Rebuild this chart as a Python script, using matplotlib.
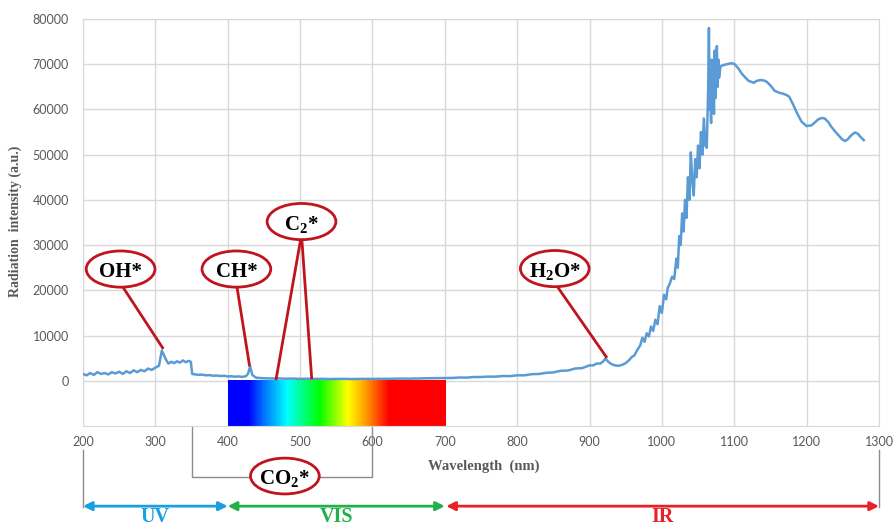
import numpy as np
import matplotlib
matplotlib.use("Agg")
from matplotlib import pyplot as plt
from matplotlib.patches import Ellipse
from matplotlib.colors import LinearSegmentedColormap

plt.rcParams['mathtext.default'] = 'regular'

# emission spectrum (nm, a.u.)
wavelength = [200, 205, 210, 215, 220, 225, 230, 235, 240, 245, 250, 255, 260, 265, 270,
              275, 280, 285, 290, 295, 300,
              305, 309, 312, 315, 318, 322, 326, 330, 334, 338, 342, 346, 349, 351,
              355, 360, 365, 370, 375, 380, 385, 390, 395, 400, 405, 410, 415, 420,
              425, 428, 431, 434, 438,
              440, 450, 460, 470, 480, 490, 500, 510, 520, 530, 540, 550, 560, 570,
              580, 590, 600, 610, 620, 630, 640, 650, 660, 670, 680, 690, 700,
              710, 720, 730, 740, 750, 760, 770, 780, 790, 800, 810, 820, 830, 840,
              850, 860, 870, 880, 890, 900, 905, 910, 915, 919, 922, 926, 930, 935,
              940, 945, 950, 955, 958, 962, 966, 970, 973, 976, 979, 982, 985, 988,
              991, 994, 997, 1000, 1003, 1006, 1008, 1011, 1014, 1017, 1020, 1022,
              1024, 1026, 1028, 1030, 1032, 1034, 1036, 1038, 1040, 1042, 1044, 1046,
              1048, 1050, 1052, 1054, 1056, 1058, 1060, 1062, 1064, 1065, 1066, 1067,
              1068, 1069, 1070, 1071, 1072, 1073, 1074, 1075, 1076, 1077, 1078, 1079,
              1081, 1085, 1090, 1095, 1100, 1106, 1110, 1115, 1120, 1127, 1131, 1136,
              1141, 1145, 1150, 1156, 1162, 1167, 1172, 1176, 1181, 1187, 1193, 1200,
              1207, 1212, 1216, 1221, 1225, 1230, 1234, 1239, 1244, 1249, 1253, 1257,
              1260, 1264, 1267, 1271, 1274, 1277, 1279]
intensity = [1500, 1200, 1700, 1300, 1900, 1500, 1700, 1400, 1900, 1600, 2000, 1500, 2100,
             1700, 2300, 1900, 2400, 2100, 2700, 2400, 2900,
             3300, 6700, 5600, 4600, 3800, 4200, 3900, 4300, 4000, 4500, 4100, 4400, 4200, 1500,
             1400, 1300, 1350, 1200, 1250, 1100, 1150, 1050, 1100, 950, 1000, 900, 950, 850,
             1000, 1500, 3200, 1300, 800,
             650, 550, 500, 520, 450, 480, 420, 450, 400, 430, 380, 400, 420, 380,
             400, 420, 400, 430, 420, 450, 480, 460, 500, 520, 560, 580, 600,
             620, 720, 690, 820, 830, 920, 900, 1050, 1020, 1200, 1200, 1450, 1500, 1750,
             1850, 2200, 2250, 2700, 2800, 3400, 3400, 3800, 3800, 4300, 4900, 4200, 3700, 3400,
             3300, 3500, 3900, 4600, 5200, 5600, 6800, 7800, 9500, 8600, 10500, 9800, 12000, 11000,
             13500, 12500, 16500, 15000, 19000, 18000, 20500, 21500, 23000, 22500, 27000, 25000,
             32000, 30000, 37000, 33000, 40000, 36000, 45000, 40000, 50500, 44000, 41000, 49000,
             45000, 52000, 47000, 55000, 50000, 58000, 52000, 51500, 65000, 78000, 60000, 63000,
             57000, 71000, 62000, 65000, 59000, 73000, 62500, 70000, 74000, 65000, 71000, 67000,
             69500, 69800, 70000, 70200, 70100, 69000, 68000, 67100, 66300, 65900, 66300, 66500,
             66400, 66100, 65300, 64100, 63700, 63500, 63200, 62800, 61200, 59100, 57300, 56300,
             56500, 57200, 57800, 58100, 58000, 57200, 56200, 55200, 54300, 53400, 53000, 53400,
             54000, 54600, 54900, 54600, 54000, 53500, 53200]

x_ticks = list(range(200, 1301, 100))
y_ticks = list(range(0, 80001, 10000))

# band labels: (name, start, end, colour)
bands = [("UV", 200, 400, "#1a9fe0"),
         ("VIS", 400, 700, "#22b04b"),
         ("IR", 702, 1300, "#e8202a")]

# species callouts: label, ellipse centre, leader line end points
species = [("OH*", (252, 24700), [(310, 7300)]),
           ("CH*", (412, 24700), [(430, 3500)]),
           ("C$_2$*", (502, 35200), [(467, 450), (516, 650)]),
           ("H$_2$O*", (852, 24800), [(923, 5300)])]

grid_col = "#d9d9d9"
text_col = "#595959"
red = "#c0141e"

fig = plt.figure(figsize=(8.95, 5.27), dpi=100)
ax = fig.add_axes([0.0927, 0.1917, 0.8894, 0.7723])

ax.plot(wavelength, intensity, color="#5b9bd5", lw=1.8, zorder=3)

# visible colour strip under the curve
spec_cmap = LinearSegmentedColormap.from_list("vis", [
    (0.0, "#0000ff"), (0.09, "#0000ff"), (0.16, "#0070ff"), (0.27, "#00ffff"),
    (0.33, "#00ff99"), (0.42, "#00ff00"), (0.55, "#ffff00"), (0.63, "#ffa000"),
    (0.74, "#ff0000"), (1.0, "#ff0000")])
ax.imshow(np.linspace(0, 1, 300).reshape(1, -1), cmap=spec_cmap, aspect="auto",
          extent=[400, 700, -10000, 0], zorder=2)

ax.set_xlim(200, 1300)
ax.set_ylim(-10000, 80000)
ax.set_xticks(x_ticks)
ax.set_yticks(y_ticks)
ax.grid(True, color=grid_col, lw=1)
ax.set_axisbelow(True)
for s in ax.spines.values():
    s.set_color(grid_col)
ax.tick_params(length=0, labelsize=9, labelcolor=text_col)
ax.tick_params(axis="x", pad=7)
ax.tick_params(axis="y", pad=10)
for lab in ax.get_xticklabels() + ax.get_yticklabels():
    lab.set_family("Lato")

fig.text(0.017, 0.58, "Radiation  intensity (a.u.)", rotation=90, ha="center",
         va="center", family="Liberation Serif", fontweight="bold", fontsize=10,
         color=text_col)
fig.text(0.54, 0.115, "Wavelength  (nm)", ha="center", va="center",
         family="Liberation Serif", fontweight="bold", fontsize=10.5, color=text_col)

# callouts
for label, (cx, cy), ends in species:
    for ex, ey in ends:
        ax.plot([cx + (ex - cx) * 0.02, ex], [cy - 3500, ey], color=red, lw=2,
                zorder=5, clip_on=False)
    ax.add_patch(Ellipse((cx, cy), 95, 8000, facecolor="white", edgecolor=red,
                         lw=2, zorder=6, clip_on=False))
    ax.text(cx, cy, label, ha="center", va="center_baseline", fontsize=15,
            fontweight="bold", family="Liberation Serif", zorder=7)

# below-axis annotations
tr = ax.get_xaxis_transform()
ax.plot([350, 350, 600, 600], [0, -0.125, -0.125, 0], color="#8c8c8c", lw=1,
        transform=tr, clip_on=False)
ax.add_patch(Ellipse((479, -0.123), 95, 0.088, transform=tr, facecolor="white",
                     edgecolor=red, lw=2, zorder=6, clip_on=False))
ax.text(479, -0.123, "CO$_2$*", transform=tr, ha="center", va="center_baseline",
        fontsize=15, fontweight="bold", family="Liberation Serif", zorder=7)

for xb in (200, 1300):
    ax.plot([xb, xb], [-0.06, -0.2], color="#8c8c8c", lw=1, transform=tr,
            clip_on=False)

for name, x0, x1, col in bands:
    ax.annotate("", xy=(x0, -0.197), xytext=(x1, -0.197), xycoords=tr,
                textcoords=tr, annotation_clip=False,
                arrowprops=dict(arrowstyle="<|-|>", color=col, lw=2,
                                mutation_scale=13, shrinkA=0, shrinkB=0))
    ax.text((x0 + x1) / 2, -0.236, name, transform=tr, ha="center", va="baseline",
            fontsize=14.5, fontweight="bold", family="Liberation Serif", color=col)

fig.savefig("out.png", dpi=100)
plt.close(fig)
